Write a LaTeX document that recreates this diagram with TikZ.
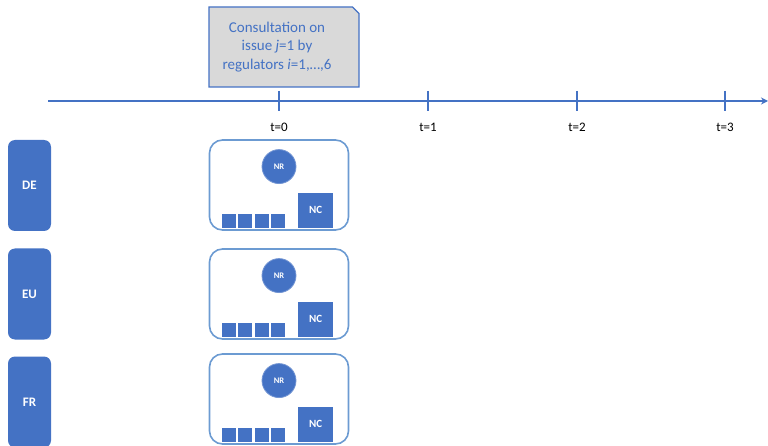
\documentclass[tikz,border=0pt]{standalone}
\usepackage{fontspec}
\setmainfont{Carlito}
\usetikzlibrary{positioning,shapes.misc,arrows.meta}

\definecolor{ppblue}{HTML}{4472C4}
\definecolor{ppline}{HTML}{6C9BD2}
\definecolor{ppgray}{HTML}{D9D9D9}

\begin{document}
\begin{tikzpicture}[x=1pt, y=-1pt,
  axisline/.style={draw=ppblue, line width=1.5pt},
  consultbox/.style={chamfered rectangle, chamfered rectangle corners=north east,
    chamfered rectangle xsep=14pt, draw=ppblue, line width=1.3pt, fill=ppgray,
    minimum width=150pt, minimum height=80pt},
  consulttext/.style={text=ppblue, align=center, inner sep=0pt,
    font=\fontsize{15}{18.5}\selectfont},
  ticklabel/.style={font=\fontsize{13}{15}\selectfont},
  regbox/.style={rectangle, rounded corners=7pt, fill=ppblue, minimum width=43pt,
    minimum height=91pt, text=white, font=\bfseries\fontsize{13}{15}\selectfont, inner sep=0pt},
  stagebox/.style={rectangle, rounded corners=13pt, draw=ppline, line width=1.6pt,
    fill=white, minimum width=139pt, minimum height=90pt},
  nrdot/.style={circle, fill=ppblue, draw=ppblue!75!white, line width=0.8pt,
    minimum size=34pt, text=white, font=\bfseries\fontsize{8.5}{10}\selectfont, inner sep=0pt},
  ncbox/.style={rectangle, fill=ppblue, minimum size=35pt, text=white,
    font=\bfseries\fontsize{11}{13}\selectfont, inner sep=0pt},
  unitbox/.style={rectangle, fill=ppblue, minimum size=14pt, inner sep=0pt}]
\useasboundingbox (0,0) rectangle (768,446);

% time axis
\coordinate (axstart) at (48,101);
\coordinate (axend) at (768,101);
\draw[axisline,-{Stealth[length=7pt,width=7pt]}] (axstart) -- (axend);

\coordinate (t0) at (279,101);
\coordinate (t1) at (428,101);
\coordinate (t2) at (577,101);
\coordinate (t3) at (725,101);
\draw[axisline] ([yshift=10pt]t0) -- ([yshift=-10pt]t0);
\draw[axisline] ([yshift=10pt]t1) -- ([yshift=-10pt]t1);
\draw[axisline] ([yshift=10pt]t2) -- ([yshift=-10pt]t2);
\draw[axisline] ([yshift=10pt]t3) -- ([yshift=-10pt]t3);
\node[ticklabel] (lab0) at (279,127) {t=0};
\node[ticklabel] (lab1) at (428,127) {t=1};
\node[ticklabel] (lab2) at (577,127) {t=2};
\node[ticklabel] (lab3) at (725,127) {t=3};

% consultation
\node[consultbox] (consult) at (284,47) {};
\node[consulttext] (consultlab) at ([xshift=-7pt]consult.center) {Consultation on\\issue \textit{j}=1 by\\regulators \textit{i}=1,…,6};

% regulators
\node[regbox] (de) at (29.5,185.5) {DE};
\node[regbox] (eu) at (29.5,294) {EU};
\node[regbox] (fr) at (29.5,402) {FR};

% DE
\node[stagebox] (box1) at (279,185) {};
\node[nrdot, below=10pt of box1.north] (nr1) {NR};
\node[ncbox, above left=3pt and 16pt of box1.south east] (nc1) {NC};
\node[unitbox, above right=3pt and 13pt of box1.south west] (u11) {};
\node[unitbox, right=2pt of u11] (u12) {};
\node[unitbox, right=2pt of u12] (u13) {};
\node[unitbox, right=2pt of u13] (u14) {};

% EU
\node[stagebox] (box2) at (279,294) {};
\node[nrdot, below=10pt of box2.north] (nr2) {NR};
\node[ncbox, above left=3pt and 16pt of box2.south east] (nc2) {NC};
\node[unitbox, above right=3pt and 13pt of box2.south west] (u21) {};
\node[unitbox, right=2pt of u21] (u22) {};
\node[unitbox, right=2pt of u22] (u23) {};
\node[unitbox, right=2pt of u23] (u24) {};

% FR
\node[stagebox] (box3) at (279,399) {};
\node[nrdot, below=10pt of box3.north] (nr3) {NR};
\node[ncbox, above left=3pt and 16pt of box3.south east] (nc3) {NC};
\node[unitbox, above right=3pt and 13pt of box3.south west] (u31) {};
\node[unitbox, right=2pt of u31] (u32) {};
\node[unitbox, right=2pt of u32] (u33) {};
\node[unitbox, right=2pt of u33] (u34) {};

\end{tikzpicture}
\end{document}
